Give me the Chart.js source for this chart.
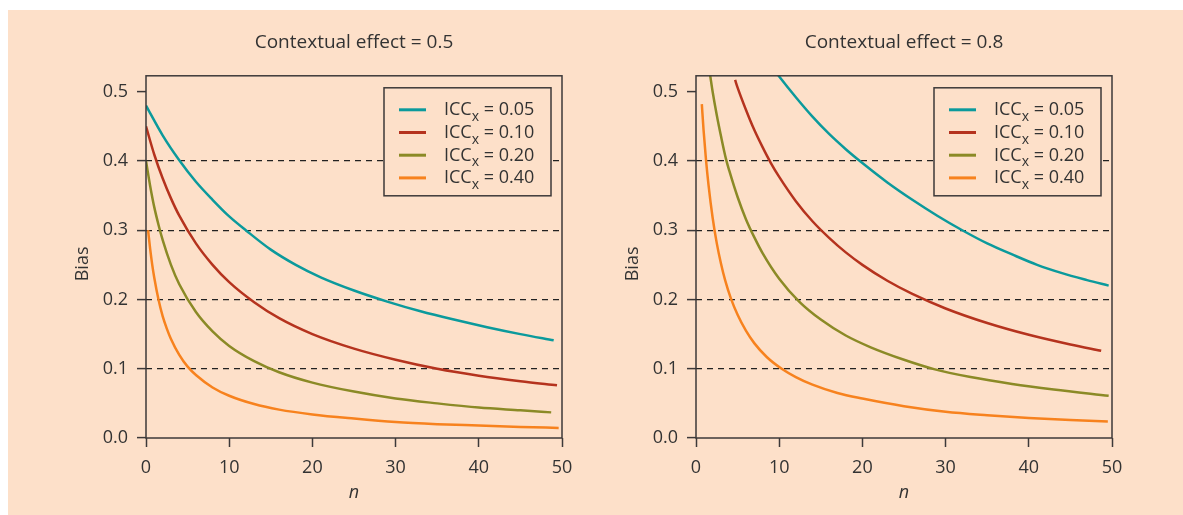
<!DOCTYPE html>
<html>
<head>
<meta charset="utf-8">
<script src="https://cdn.jsdelivr.net/npm/chart.js@4.4.1/dist/chart.umd.min.js"></script>
<style>
  html, body { margin: 0; padding: 0; background: #fff; }
  #panel { position: absolute; left: 8px; top: 10px; width: 1175px; height: 505px; background: #fde0c9; }
  canvas { position: absolute; top: 0; }
  #left { left: 0; }
  #right { left: 550px; }
</style>
</head>
<body>
<div id="panel">
  <canvas id="left" width="590" height="505"></canvas>
  <canvas id="right" width="625" height="505"></canvas>
</div>
<script>
// Valores
const iccValues = ['0.05', '0.10', '0.20', '0.40'];
const xTicks = [0, 10, 20, 30, 40, 50];
const yTicks = [0, 0.1, 0.2, 0.3, 0.4, 0.5];

// Contextual effect = 0.5
const leftN05 = [0, 2, 4, 6, 8, 10, 12, 15, 18, 21, 25, 29, 33, 37, 41, 45, 49];
const leftBias05 = [0.480, 0.437, 0.401, 0.370, 0.344, 0.320, 0.300, 0.272, 0.250, 0.232, 0.213, 0.197, 0.183, 0.171, 0.160, 0.150, 0.141];
const leftN10 = [0, 1, 2, 3, 4, 6, 8, 10, 13, 16, 20, 25, 30, 35, 40, 45, 49.4];
const leftBias10 = [0.450, 0.409, 0.375, 0.346, 0.321, 0.281, 0.250, 0.225, 0.196, 0.173, 0.150, 0.129, 0.113, 0.100, 0.090, 0.082, 0.076];
const leftN20 = [0, 0.5, 1, 1.5, 2, 3, 4, 6, 8, 10, 13, 16, 20, 25, 30, 35, 40, 45, 48.7];
const leftBias20 = [0.400, 0.364, 0.333, 0.308, 0.286, 0.250, 0.222, 0.182, 0.154, 0.133, 0.111, 0.095, 0.080, 0.067, 0.057, 0.050, 0.044, 0.040, 0.037];
const leftN40 = [0.25, 0.5, 0.75, 1, 1.5, 2, 2.5, 3, 4, 5, 6, 8, 10, 13, 16, 20, 25, 30, 35, 40, 45, 49.6];
const leftBias40 = [0.300, 0.273, 0.250, 0.231, 0.200, 0.176, 0.158, 0.143, 0.120, 0.103, 0.091, 0.073, 0.061, 0.049, 0.041, 0.034, 0.028, 0.023, 0.020, 0.018, 0.016, 0.0145];

// Contextual effect = 0.8
const rightN05 = [9.5, 10, 12, 14, 16, 18, 20, 23, 26, 29, 32, 35, 38, 41, 44, 47, 49.6];
const rightBias05 = [0.530, 0.522, 0.492, 0.464, 0.439, 0.417, 0.397, 0.369, 0.344, 0.321, 0.300, 0.281, 0.265, 0.250, 0.238, 0.228, 0.220];
const rightN10 = [4.7, 5, 6, 7, 8, 9, 10, 12, 14, 16, 18, 20, 23, 26, 30, 35, 40, 45, 48.7];
const rightBias10 = [0.517, 0.506, 0.474, 0.445, 0.420, 0.397, 0.377, 0.342, 0.313, 0.289, 0.268, 0.250, 0.227, 0.208, 0.187, 0.166, 0.149, 0.135, 0.126];
const rightN20 = [1.4, 1.7, 2, 2.5, 3, 3.6, 4, 5, 6, 7, 8, 10, 12.4, 15, 18, 21, 25, 28.6, 33, 38, 43, 49.6];
const rightBias20 = [0.550, 0.524, 0.500, 0.466, 0.436, 0.403, 0.386, 0.348, 0.316, 0.290, 0.267, 0.230, 0.197, 0.171, 0.148, 0.131, 0.113, 0.0995, 0.088, 0.078, 0.070, 0.061];
const rightN40 = [0.7, 0.9, 1.2, 1.5, 2, 2.5, 3, 3.5, 4.18, 5, 6, 7, 8.5, 10.3, 12, 14, 17, 20, 25, 30, 35, 40, 45, 49.5];
const rightBias40 = [0.482, 0.446, 0.402, 0.366, 0.318, 0.281, 0.252, 0.228, 0.202, 0.178, 0.155, 0.137, 0.117, 0.100, 0.088, 0.077, 0.065, 0.057, 0.046, 0.038, 0.033, 0.029, 0.026, 0.024];

const colores = ['#0b9a9c', '#b5331e', '#8b8a26', '#f7821e'];
const fondo = '#fde0c9';
const ejeColor = '#3d3939';
const textoColor = '#333';
const familia = "'Open Sans', sans-serif";

// Marco del área y leyenda con subíndice
const marcoLeyenda = {
    id: 'marcoLeyenda',
    afterDatasetsDraw(chart) {
        const a = chart.chartArea;
        const ctx = chart.ctx;
        ctx.save();
        ctx.strokeStyle = ejeColor;
        ctx.lineWidth = 1.5;
        ctx.strokeRect(a.left, a.top, a.right - a.left, a.bottom - a.top);
        ctx.restore();
    },
    afterDraw(chart) {
        const a = chart.chartArea;
        const ctx = chart.ctx;
        const x0 = a.left + 238, y0 = a.top + 12, w = 167, h = 108;
        ctx.save();
        ctx.fillStyle = fondo;
        ctx.fillRect(x0, y0, w, h);
        ctx.strokeStyle = ejeColor;
        ctx.lineWidth = 1.5;
        ctx.strokeRect(x0, y0, w, h);
        chart.data.datasets.forEach(function (ds, i) {
            const y = y0 + 22 + i * 22.7;
            ctx.strokeStyle = ds.borderColor;
            ctx.lineWidth = 3;
            ctx.beginPath();
            ctx.moveTo(x0 + 15, y);
            ctx.lineTo(x0 + 42, y);
            ctx.stroke();
            ctx.fillStyle = textoColor;
            ctx.textBaseline = 'alphabetic';
            ctx.textAlign = 'left';
            let tx = x0 + 60;
            const base = y + 5.5;
            ctx.font = '18px ' + familia;
            ctx.fillText('ICC', tx, base);
            tx += ctx.measureText('ICC').width;
            ctx.font = '14px ' + familia;
            ctx.fillText('x', tx, base + 5.5);
            tx += ctx.measureText('x').width;
            ctx.font = '18px ' + familia;
            ctx.fillText(' = ' + iccValues[i], tx, base);
        });
        ctx.restore();
    }
};

function serie(ns, bias, i) {
    return {
        label: 'ICCx = ' + iccValues[i],
        data: ns.map(function (n, k) { return { x: n, y: bias[k] }; }),
        borderColor: colores[i],
        borderWidth: 2.5,
        pointRadius: 0,
        cubicInterpolationMode: 'monotone',
        clip: 0
    };
}

function crearGrafico(id, titulo, datasets, padRight) {
    return new Chart(document.getElementById(id), {
        type: 'line',
        data: { datasets: datasets },
        options: {
            responsive: false,
            animation: false,
            layout: { padding: { left: 0, right: padRight, top: 0, bottom: 0 } },
            plugins: {
                legend: { display: false },
                tooltip: { enabled: false },
                title: {
                    display: true,
                    fullSize: false,
                    text: titulo,
                    color: textoColor,
                    font: { family: familia, size: 19, weight: 'normal' },
                    padding: { top: 21, bottom: 22 }
                }
            },
            scales: {
                x: {
                    type: 'linear',
                    min: 0,
                    max: 50,
                    afterBuildTicks: function (s) { s.ticks = xTicks.map(function (v) { return { value: v }; }); },
                    afterFit: function (s) { s.height = 77; },
                    border: { display: false },
                    grid: { drawOnChartArea: false, tickLength: 9, tickColor: ejeColor, tickWidth: 1.5 },
                    ticks: { color: textoColor, font: { family: familia, size: 18 }, padding: 10, maxRotation: 0 },
                    title: {
                        display: true,
                        text: 'n',
                        color: textoColor,
                        font: { family: familia, size: 18, style: 'italic' },
                        padding: { top: 0, bottom: 11 }
                    }
                },
                y: {
                    min: 0,
                    max: 0.523,
                    afterBuildTicks: function (s) { s.ticks = yTicks.map(function (v) { return { value: v }; }); },
                    afterFit: function (s) { s.width = 138; },
                    border: { display: false, dash: [6, 5] },
                    grid: {
                        color: function (c) {
                            const v = c.tick ? c.tick.value : 0;
                            return (v > 0.05 && v < 0.45) ? '#222' : 'rgba(0,0,0,0)';
                        },
                        lineWidth: 1.2,
                        tickLength: 9,
                        tickColor: ejeColor,
                        tickWidth: 1.5,
                        tickBorderDash: []
                    },
                    ticks: {
                        color: textoColor,
                        font: { family: familia, size: 18 },
                        padding: 9,
                        callback: function (v) { return v.toFixed(1); }
                    },
                    title: {
                        display: true,
                        text: 'Bias   ',
                        color: textoColor,
                        font: { family: familia, size: 18 },
                        padding: { top: 64, bottom: 0 }
                    }
                }
            }
        },
        plugins: [marcoLeyenda]
    });
}

document.addEventListener('DOMContentLoaded', function () {
    crearGrafico('left', 'Contextual effect = 0.5', [
        serie(leftN05, leftBias05, 0),
        serie(leftN10, leftBias10, 1),
        serie(leftN20, leftBias20, 2),
        serie(leftN40, leftBias40, 3)
    ], 36);
    crearGrafico('right', 'Contextual effect = 0.8', [
        serie(rightN05, rightBias05, 0),
        serie(rightN10, rightBias10, 1),
        serie(rightN20, rightBias20, 2),
        serie(rightN40, rightBias40, 3)
    ], 71);
});
</script>
</body>
</html>
